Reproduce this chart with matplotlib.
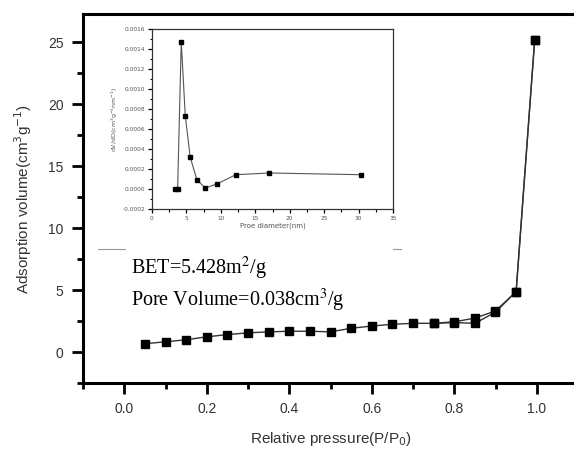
import matplotlib.pyplot as plt
from matplotlib.ticker import MultipleLocator

# Isotherm data (relative pressure vs adsorbed volume)
p_ads = [0.05, 0.10, 0.15, 0.20, 0.25, 0.30, 0.35, 0.40, 0.45, 0.50,
         0.55, 0.60, 0.65, 0.70, 0.75, 0.80, 0.85, 0.90, 0.95, 0.995]
v_ads = [0.67, 0.83, 0.99, 1.23, 1.41, 1.55, 1.63, 1.68, 1.68, 1.63,
         1.92, 2.10, 2.24, 2.32, 2.32, 2.38, 2.32, 3.22, 4.88, 25.2]
p_des = [0.995, 0.95, 0.90, 0.85, 0.80, 0.75]
v_des = [25.2, 4.88, 3.32, 2.74, 2.44, 2.32]

# Pore size distribution (inset)
pore_d = [3.28, 3.72, 4.25, 4.83, 5.55, 6.52, 7.73, 9.51, 12.17, 17.05, 30.37]
dvdd = [0.0, 0.0, 0.00147, 0.000733, 0.000317, 0.000093, 0.00001,
        0.000053, 0.000143, 0.00016, 0.000143]

fig = plt.figure(figsize=(5.74, 4.57), dpi=100)
ax = fig.add_axes([83/574, 1-383/457, (578-83)/574, 369/457])

ax.plot(p_ads, v_ads, color='#333333', lw=1, marker='s', ms=5.2,
        mfc='black', mec='black')
ax.plot(p_des, v_des, color='#333333', lw=1, marker='s', ms=5.2,
        mfc='black', mec='black')

ax.set_xlim(-0.1, 1.1)
ax.set_ylim(-2.5, 27.3)
ax.xaxis.set_minor_locator(MultipleLocator(0.1))
ax.yaxis.set_minor_locator(MultipleLocator(2.5))
ax.set_xticks([0.0, 0.2, 0.4, 0.6, 0.8, 1.0])
ax.set_xticklabels(['0.0', '0.2', '0.4', '0.6', '0.8', '1.0'])
ax.set_yticks([0, 5, 10, 15, 20, 25])

for s in ['left', 'bottom', 'top']:
    ax.spines[s].set_linewidth(2.2)
ax.spines['right'].set_visible(False)
ax.tick_params(which='major', direction='out', length=8, width=2,
               labelsize=10, colors='black', labelcolor='#333333', pad=6)
ax.tick_params(which='minor', direction='out', length=4, width=2)
for lab in ax.get_xticklabels() + ax.get_yticklabels():
    lab.set_family('Liberation Sans')

ax.set_xlabel('Relative pressure(P/P$_0$)', fontsize=11, color='#333333',
              family='Liberation Sans', labelpad=10)
ax.set_ylabel('Adsorption volume(cm$^3$g$^{-1}$)', fontsize=11,
              color='#333333', family='Liberation Sans', labelpad=10)

# Annotations
fig.text(131/574, 1-268/457, 'BET=5.428m$^2$/g', fontsize=14.5,
         family='Liberation Serif', va='center', math_fontfamily='stix')
fig.text(131/574, 1-300/457, 'Pore Volume=0.038cm$^3$/g', fontsize=14.5,
         family='Liberation Serif', va='center', math_fontfamily='stix')

# small artefact lines around the pasted inset
fig.add_artist(plt.Line2D([98/574, 125/574], [1-249/457, 1-249/457],
                          color='#999999', lw=0.8))
fig.add_artist(plt.Line2D([393/574, 401/574], [1-249/457, 1-249/457],
                          color='#999999', lw=0.8))

# Inset
ins = fig.add_axes([152/574, 1-209/457, 241/574, 180/457])
ins.plot(pore_d, dvdd, color='#555555', lw=0.8, marker='s', ms=2.8,
         mfc='black', mec='black')
ins.set_xlim(0, 35)
ins.set_ylim(-0.0002, 0.0016)
ins.xaxis.set_major_locator(MultipleLocator(5))
ins.xaxis.set_minor_locator(MultipleLocator(2.5))
ins.yaxis.set_major_locator(MultipleLocator(0.0002))
ins.yaxis.set_minor_locator(MultipleLocator(0.0001))
ins.yaxis.set_major_formatter(plt.FuncFormatter(lambda v, p: f'{v:.4f}'))
for s in ins.spines.values():
    s.set_linewidth(0.9)
    s.set_color('#333333')
ins.tick_params(which='major', direction='out', length=3, width=0.9,
                labelsize=4.2, labelcolor='#555555', pad=2)
ins.tick_params(which='minor', direction='out', length=1.8, width=0.8)
ins.set_xlabel('Proe diameter(nm)', fontsize=5, color='#555555', labelpad=1)
ins.set_ylabel('dV/dD(cm$^3$g$^{-1}$nm$^{-1}$)', fontsize=4.5,
               color='#555555', labelpad=2)

fig.savefig('out.png', dpi=100)
